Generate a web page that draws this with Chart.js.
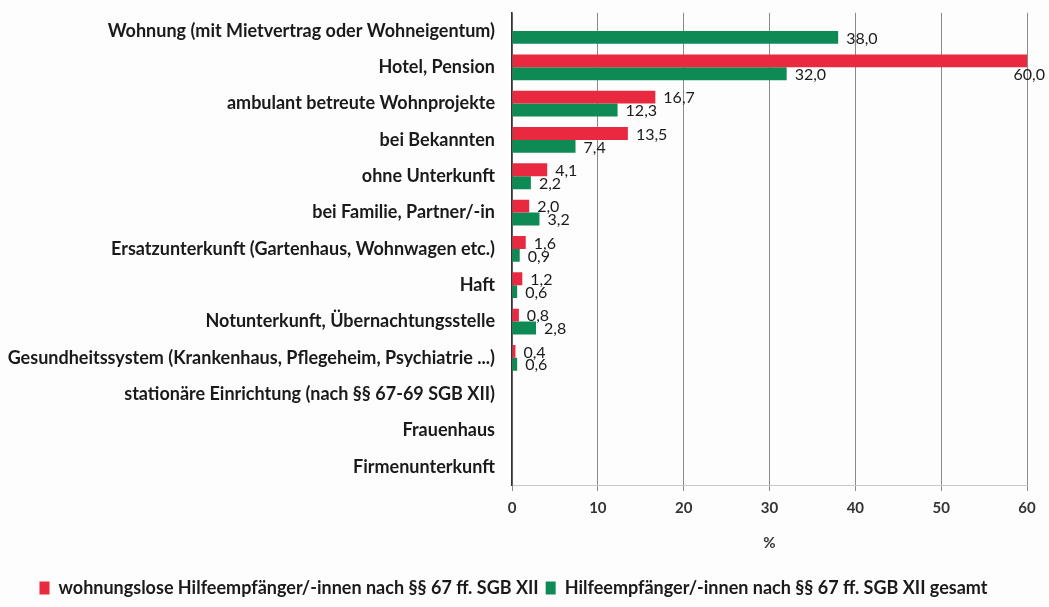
<!DOCTYPE html>
<html><head><meta charset="utf-8">
<script src="https://cdn.jsdelivr.net/npm/chart.js@4"></script>
<style>html,body{margin:0;padding:0;background:#fdfdfd;}#wrap{width:1049px;height:607px;}</style>
</head><body><div id="wrap"><canvas id="c" width="1049" height="607"></canvas></div>
<script>
const categories = [
  "Wohnung (mit Mietvertrag oder Wohneigentum)",
  "Hotel, Pension",
  "ambulant betreute Wohnprojekte",
  "bei Bekannten",
  "ohne Unterkunft",
  "bei Familie, Partner/-in",
  "Ersatzunterkunft (Gartenhaus, Wohnwagen etc.)",
  "Haft",
  "Notunterkunft, Übernachtungsstelle",
  "Gesundheitssystem (Krankenhaus, Pflegeheim, Psychiatrie ...)",
  "stationäre Einrichtung (nach §§ 67-69 SGB XII)",
  "Frauenhaus",
  "Firmenunterkunft"
];
const wohnungslose = [null, 60.0, 16.7, 13.5, 4.1, 2.0, 1.6, 1.2, 0.8, 0.4, null, null, null];
const gesamt = [38.0, 32.0, 12.3, 7.4, 2.2, 3.2, 0.9, 0.6, 2.8, 0.6, null, null, null];
const seriesNames = ["wohnungslose Hilfeempfänger/-innen nach §§ 67 ff. SGB XII", "Hilfeempfänger/-innen nach §§ 67 ff. SGB XII gesamt"];
const xTicks = [0, 10, 20, 30, 40, 50, 60];

const FONT = "Lato, 'Open Sans', sans-serif";
const labelPlugin = {
  id: 'vlabels',
  afterDatasetsDraw(chart) {
    const ctx = chart.ctx;
    ctx.save();
    ctx.font = "16px " + FONT;
    ctx.fillStyle = "#1a1a1a";
    ctx.textBaseline = "middle";
    chart.data.datasets.forEach((ds, di) => {
      const meta = chart.getDatasetMeta(di);
      meta.data.forEach((bar, i) => {
        const v = ds.data[i];
        if (v === null || v === undefined) return;
        const txt = v.toFixed(1).replace('.', ',');
        const w = ctx.measureText(txt).width;
        if (bar.x + 9 + w > chart.chartArea.right + 20) {
          ctx.textAlign = "right";
          ctx.fillText(txt, chart.width - 4, bar.y + 14);
        } else {
          ctx.textAlign = "left";
          ctx.fillText(txt, bar.x + 8, bar.y + 1);
        }
      });
    });
    ctx.restore();
  }
};

new Chart(document.getElementById('c'), {
  type: 'bar',
  data: {
    labels: categories,
    datasets: [
      { label: seriesNames[0], data: wohnungslose, backgroundColor: '#E8293F', categoryPercentage: 0.71, barPercentage: 1.0 },
      { label: seriesNames[1], data: gesamt, backgroundColor: '#0E8A55', categoryPercentage: 0.71, barPercentage: 1.0 }
    ]
  },
  options: {
    indexAxis: 'y',
    responsive: false,
    animation: false,
    layout: { padding: { top: 2, right: 22, bottom: 0, left: 0 } },
    plugins: {
      legend: {
        position: 'bottom',
        labels: { boxWidth: 10, boxHeight: 13, padding: 7, color: '#1a1a1a', font: { family: FONT, size: 18, weight: 'bold' } }
      },
      tooltip: { enabled: false }
    },
    scales: {
      x: {
        min: 0, max: 60,
        afterBuildTicks(axis) { axis.ticks = xTicks.map(v => ({ value: v })); },
        grid: { color: '#8a8a8a', lineWidth: 1, tickLength: 6, drawTicks: true },
        border: { display: true, color: '#c8c8c8' },
        ticks: { color: '#333', padding: 8, font: { family: FONT, size: 15, weight: 'bold' } },
        title: { display: true, text: '%', color: '#333', padding: { top: 9, bottom: 20 }, font: { family: FONT, size: 15, weight: 'bold' } }
      },
      y: {
        afterFit(axis) { axis.width = 512; },
        grid: { display: true, drawOnChartArea: false, offset: true, tickLength: 15, tickColor: 'rgba(0,0,0,0)' },
        border: { display: true, color: '#333', width: 1.5 },
        ticks: { color: '#1a1a1a', padding: 2, autoSkip: false, font: { family: FONT, size: 18, weight: 'bold' } }
      }
    }
  },
  plugins: [labelPlugin]
});
</script>
</body></html>
